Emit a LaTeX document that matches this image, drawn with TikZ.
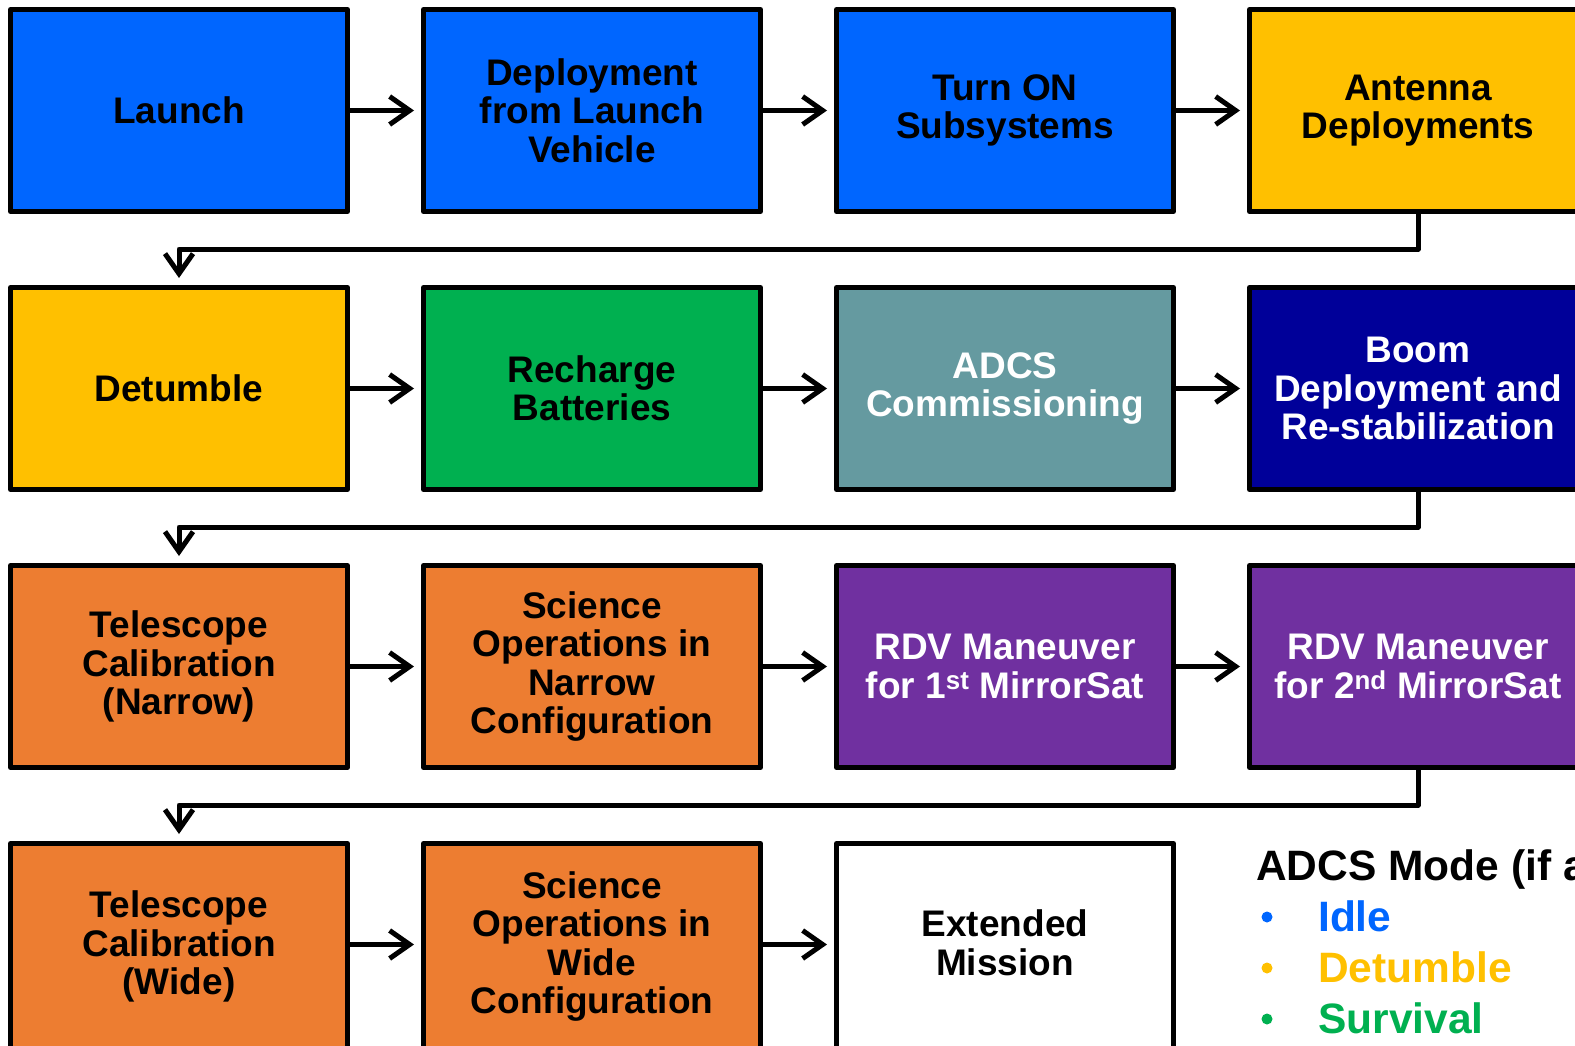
\documentclass[tikz,border=0pt]{standalone}
\usepackage{fontspec}
\setmainfont{Liberation Sans}
\usetikzlibrary{arrows.meta}
\definecolor{cblue}{RGB}{0,102,255}
\definecolor{cyellow}{RGB}{255,192,0}
\definecolor{cgreen}{RGB}{0,176,80}
\definecolor{cteal}{RGB}{101,154,160}
\definecolor{cnavy}{RGB}{0,0,153}
\definecolor{corange}{RGB}{237,125,49}
\definecolor{cpurple}{RGB}{112,48,160}
\tikzset{
  box/.style={draw=black, line width=5pt, line join=round, anchor=north west,
    minimum width=337pt, minimum height=202pt, inner sep=0pt, align=center,
    font=\fontsize{37}{38.4}\selectfont\bfseries},
  flow/.style={line width=5pt, line join=round,
    -{Straight Barb[length=20pt,width=28pt,line width=5pt]}, shorten >=7pt},
  legtxt/.style={anchor=base west, inner sep=0pt, font=\fontsize{42.5}{50}\selectfont\bfseries}
}
\begin{document}
\begin{tikzpicture}[x=1pt,y=-1pt]
\useasboundingbox (0,0) rectangle (1575,1046);
\clip (0,0) rectangle (1575,1046);
% row 1
\node[box, fill=cblue] (b11) at (8,7) {Launch};
\node[box, fill=cblue] (b12) at (421,7) {Deployment\\from Launch\\Vehicle};
\node[box, fill=cblue] (b13) at (834,7) {Turn ON\\Subsystems};
\node[box, fill=cyellow] (b14) at (1247,7) {Antenna\\Deployments};
% row 2
\node[box, fill=cyellow] (b21) at (8,285) {Detumble};
\node[box, fill=cgreen] (b22) at (421,285) {Recharge\\Batteries};
\node[box, fill=cteal, text=white] (b23) at (834,285) {ADCS\\Commissioning};
\node[box, fill=cnavy, text=white] (b24) at (1247,285) {Boom\\Deployment and\\Re-stabilization};
% row 3
\node[box, fill=corange] (b31) at (8,563) {Telescope\\Calibration\\(Narrow)};
\node[box, fill=corange] (b32) at (421,563) {Science\\Operations in\\Narrow\\Configuration};
\node[box, fill=cpurple, text=white] (b33) at (834,563) {RDV Maneuver\\for 1\textsuperscript{st} MirrorSat};
\node[box, fill=cpurple, text=white] (b34) at (1247,563) {RDV Maneuver\\for 2\textsuperscript{nd} MirrorSat};
% row 4
\node[box, fill=corange, minimum height=210pt] (b41) at (8,841) {\raisebox{8pt}{\begin{tabular}{@{}c@{}}Telescope\\Calibration\\(Wide)\end{tabular}}};
\node[box, fill=corange, minimum height=210pt] (b42) at (421,841) {\raisebox{8pt}{\begin{tabular}{@{}c@{}}Science\\Operations in\\Wide\\Configuration\end{tabular}}};
\node[box, fill=white, minimum height=210pt] (b43) at (834,841) {\raisebox{8pt}{\begin{tabular}{@{}c@{}}Extended\\Mission\end{tabular}}};
% horizontal arrows
\draw[flow] (b11.east) -- (b12.west);
\draw[flow] (b12.east) -- (b13.west);
\draw[flow] (b13.east) -- (b14.west);
\draw[flow] (b21.east) -- (b22.west);
\draw[flow] (b22.east) -- (b23.west);
\draw[flow] (b23.east) -- (b24.west);
\draw[flow] (b31.east) -- (b32.west);
\draw[flow] (b32.east) -- (b33.west);
\draw[flow] (b33.east) -- (b34.west);
\draw[flow] ([yshift=4pt]b41.east) -- ([yshift=4pt]b42.west);
\draw[flow] ([yshift=4pt]b42.east) -- ([yshift=4pt]b43.west);
% return connectors
\draw[flow] (b14.south) -- ++(0,35) -| (b21.north);
\draw[flow] (b24.south) -- ++(0,35) -| (b31.north);
\draw[flow] (b34.south) -- ++(0,35) -| (b41.north);
% legend
\node[legtxt] (lh) at (1256,880) {ADCS Mode (if applicable)};
\fill[cblue] (1267,917) circle (5.5pt);
\node[legtxt, text=cblue] (l1) at (1318,931) {Idle};
\fill[cyellow] (1267,968) circle (5.5pt);
\node[legtxt, text=cyellow] (l2) at (1318,982) {Detumble};
\fill[cgreen] (1267,1019) circle (5.5pt);
\node[legtxt, text=cgreen] (l3) at (1318,1033) {Survival};
\end{tikzpicture}
\end{document}
